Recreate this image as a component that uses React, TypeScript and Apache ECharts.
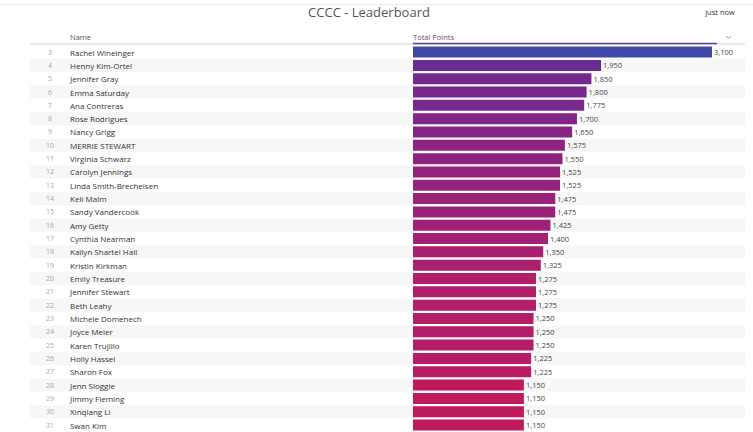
import React, { useEffect, useRef } from "react";
import * as echarts from "echarts";

const title = "CCCC - Leaderboard";
const rowNumbers = [3, 4, 5, 6, 7, 8, 9, 10, 11, 12, 13, 14, 15, 16, 17, 18, 19, 20, 21, 22, 23, 24, 25, 26, 27, 28, 29, 30, 31];
const names = [
  "Rachel Wineinger", "Henny Kim-Ortel", "Jennifer Gray", "Emma Saturday", "Ana Contreras",
  "Rose Rodrigues", "Nancy Grigg", "MERRIE STEWART", "Virginia Schwarz", "Carolyn Jennings",
  "Linda Smith-Brecheisen", "Keli Malm", "Sandy Vandercook", "Amy Getty", "Cynthia Nearman",
  "Kailyn Shartel Hall", "Kristin Kirkman", "Emily Treasure", "Jennifer Stewart", "Beth Leahy",
  "Michele Domenech", "Joyce Meier", "Karen Trujillo", "Holly Hassel", "Sharon Fox",
  "Jenn Sloggie", "Jimmy Fleming", "Xinqiang Li", "Swan Kim",
];
const totalPoints = [
  3100, 1950, 1850, 1800, 1775, 1700, 1650, 1575, 1550, 1525, 1525, 1475, 1475, 1425, 1400,
  1350, 1325, 1275, 1275, 1275, 1250, 1250, 1250, 1225, 1225, 1150, 1150, 1150, 1150,
];
const colorStopValues = [1150, 1350, 1600, 1950, 3100];
const colorStopColors = ["#bf1b5c", "#a81f72", "#8a2484", "#6a2b92", "#3f4aa8"];

function colorFor(v: number): string {
  for (let i = 0; i < colorStopValues.length - 1; i++) {
    const a = colorStopValues[i];
    const b = colorStopValues[i + 1];
    if (v <= b) {
      const t = Math.max(0, (v - a) / (b - a));
      return echarts.color.lerp(t, [colorStopColors[i], colorStopColors[i + 1]]) as string;
    }
  }
  return colorStopColors[colorStopColors.length - 1];
}

const FONT = "'Open Sans', 'Noto Sans', sans-serif";

export default function App() {
  const ref = useRef<HTMLDivElement>(null);
  useEffect(() => {
    document.body.style.margin = "0";
    if (!ref.current) return;
    const chart = echarts.init(ref.current, null, { renderer: "svg" });
    const top = 45.4;
    const bottom = 0.3;
    chart.setOption({
      animation: false,
      backgroundColor: "#ffffff",
      textStyle: { fontFamily: FONT },
      grid: [
        { left: 30, right: 8, top, bottom },
        { left: 413, right: 41, top, bottom },
      ],
      xAxis: [
        { gridIndex: 0, type: "value", show: false, min: 0, max: 1 },
        { gridIndex: 1, type: "value", show: false, min: 0, max: 3100 },
      ],
      yAxis: [
        {
          gridIndex: 0,
          type: "category",
          inverse: true,
          data: names,
          axisLine: { show: false },
          axisTick: { show: false },
          axisLabel: { show: false, interval: 0 },
          splitArea: { show: true, interval: 0, areaStyle: { color: ["#ffffff", "#f7f7f8"] } },
        },
        {
          gridIndex: 1,
          type: "category",
          inverse: true,
          data: names,
          axisLine: { show: false },
          axisTick: { show: false },
          axisLabel: {
            interval: 0,
            align: "left",
            margin: 374,
            formatter: (v: string, i: number) => `{n|${rowNumbers[i]}}{s|}{m|${v}}`,
            rich: {
              n: { width: 22, align: "right", fontSize: 7, color: "#a8a8a8", fontFamily: FONT },
              s: { width: 9 },
              m: { fontSize: 8, color: "#333333", fontFamily: FONT },
            },
          },
        },
      ],
      series: [
        {
          type: "bar",
          xAxisIndex: 1,
          yAxisIndex: 1,
          data: totalPoints,
          barWidth: 11,
          itemStyle: {
            color: (p: any) => colorFor(p.value),
          },
          label: {
            show: true,
            position: "right",
            distance: 2,
            fontSize: 7.5,
            color: "#444444",
            fontFamily: FONT,
            formatter: (p: any) => Number(p.value).toLocaleString("en-US"),
          },
        },
      ],
      graphic: [
        { type: "line", shape: { x1: 0, y1: 4.5, x2: 753, y2: 4.5 }, style: { stroke: "#ececec", lineWidth: 1 } },
        {
          type: "text",
          x: 369,
          y: 12,
          style: { text: title, fontSize: 13, fill: "#555555", align: "center", verticalAlign: "middle", fontFamily: FONT },
        },
        {
          type: "text",
          x: 720,
          y: 12,
          style: { text: "just now", fontSize: 7.5, fill: "#333333", align: "center", verticalAlign: "middle", fontFamily: FONT },
        },
        {
          type: "text",
          x: 70,
          y: 37,
          style: { text: "Name", fontSize: 7.5, fill: "#555555", verticalAlign: "middle", fontFamily: FONT },
        },
        {
          type: "text",
          x: 413,
          y: 37,
          style: { text: "Total Points", fontSize: 7.5, fill: "#555555", verticalAlign: "middle", fontFamily: FONT },
        },
        {
          type: "polyline",
          shape: { points: [[726, 36], [728.5, 38.5], [731, 36]] },
          style: { stroke: "#888888", lineWidth: 0.8, fill: null },
        },
        { type: "line", shape: { x1: 30, y1: 44, x2: 745, y2: 44 }, style: { stroke: "#d4d4d8", lineWidth: 1 } },
        { type: "line", shape: { x1: 413, y1: 43.5, x2: 717, y2: 43.5 }, style: { stroke: "#5a3fa0", lineWidth: 1.5 } },
        { type: "line", shape: { x1: 66.5, y1: 45, x2: 66.5, y2: 432 }, style: { stroke: "#e2e2e2", lineWidth: 1 } },
      ],
    });
    return () => chart.dispose();
  }, []);
  return <div ref={ref} style={{ position: "fixed", left: 0, top: 0, width: 753, height: 432 }} />;
}
